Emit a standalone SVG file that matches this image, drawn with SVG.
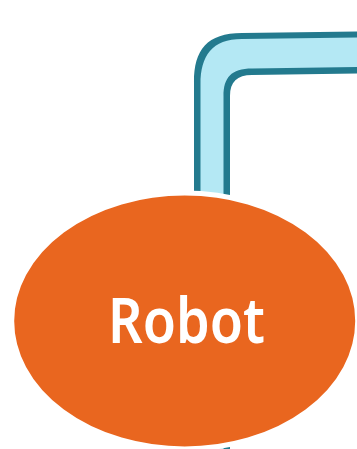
<svg xmlns="http://www.w3.org/2000/svg" width="357" height="449" viewBox="0 0 357 449">
<style>
.pipe-out{fill:#237A8E}
.pipe-in{fill:#B4E8F4}
.node{fill:#E9661F;stroke:#FFFFFF;stroke-width:5}
.label{font-family:"Noto Sans","Liberation Sans",sans-serif;font-weight:600;font-size:63px;fill:#FFFFFF}
</style>
<rect width="357" height="449" fill="#FFFFFF"/>
<g id="connectors">
<path class="pipe-out" d="M194,215 V82 C194,50 207,33 242,33 L357,31.5 V73.5 L252,75 C237,75 230,82 230,96 V215 Z"/>
<path class="pipe-in" d="M200.5,215 V84 C200.5,56 212,39 242,39 L357,37.5 V67 L252,68.5 C231,68.5 223.5,78 223.5,96 V215 Z"/>
<path class="pipe-out" d="M194,430 H230 V460 H194 Z"/>
<path class="pipe-in" d="M200.5,430 H223.5 V460 H200.5 Z"/>
</g>
<g id="robot">
<ellipse class="node" cx="184.7" cy="321" rx="173" ry="128"/>
<text class="label" x="186.5" y="342.5" text-anchor="middle" textLength="157" lengthAdjust="spacingAndGlyphs">Robot</text>
</g>
</svg>
